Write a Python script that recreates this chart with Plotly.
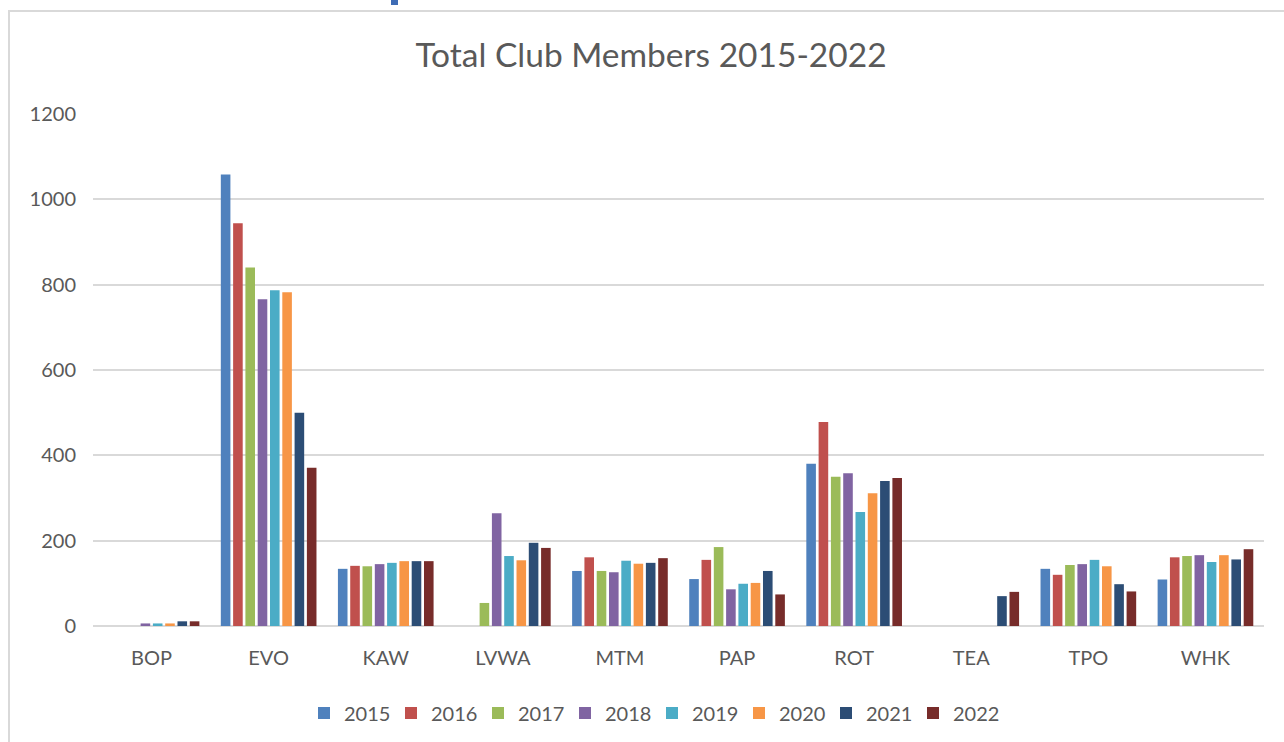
import plotly.graph_objects as go

clubs = ["BOP", "EVO", "KAW", "LVWA", "MTM", "PAP", "ROT", "TEA", "TPO", "WHK"]
years = ["2015", "2016", "2017", "2018", "2019", "2020", "2021", "2022"]

v2015 = [None, 1058, 134, None, 129, 110, 380, None, 134, 109]
v2016 = [None, 944, 141, None, 161, 155, 478, None, 120, 161]
v2017 = [None, 840, 140, 54, 129, 185, 350, None, 143, 164]
v2018 = [6, 766, 145, 264, 126, 86, 358, None, 145, 166]
v2019 = [6, 787, 148, 164, 153, 99, 267, None, 155, 150]
v2020 = [6, 782, 152, 154, 146, 101, 311, None, 140, 166]
v2021 = [11, 500, 152, 195, 148, 129, 340, 70, 98, 156]
v2022 = [11, 371, 152, 183, 159, 74, 347, 80, 81, 180]

series = [v2015, v2016, v2017, v2018, v2019, v2020, v2021, v2022]
colors = ["#4F81BD", "#C0504D", "#9BBB59", "#8064A2", "#4BACC6", "#F79646", "#2C4D75", "#772C2A"]

FONT = "Lato"
GRAY = "#595959"

fig = go.Figure()
for yr, vals, col in zip(years, series, colors):
    fig.add_trace(go.Bar(name=yr, x=clubs, y=vals, marker=dict(color=col, line=dict(width=0))))

L, R, T, B = 93, 1264, 114, 626
W, H = 1284, 742

def px_x(p):
    return (p - L) / (R - L)

def px_y(p):
    return (B - p) / (B - T)

fig.update_layout(
    width=W, height=H,
    margin=dict(l=L, r=W - R, t=T, b=H - B, autoexpand=False),
    paper_bgcolor="white", plot_bgcolor="white",
    barmode="group", bargap=0.16, bargroupgap=0.22,
    title=dict(text="Total Club Members 2015-2022", x=651 / W, xanchor="center", xref="container",
               y=1 - 55 / H, yanchor="middle",
               font=dict(family=FONT, size=33.5, color=GRAY)),
    font=dict(family=FONT, color=GRAY),
    showlegend=True,
    legend=dict(orientation="h", x=652 / W, xanchor="center", xref="container",
                y=1 - 713 / H, yanchor="middle", yref="container",
                font=dict(family=FONT, size=20, color=GRAY),
                itemwidth=30, entrywidth=42, entrywidthmode="pixels",
                traceorder="normal", itemclick=False),
    xaxis=dict(showgrid=False, showline=False, ticks="", zeroline=False,
               tickfont=dict(family=FONT, size=20, color=GRAY), ticklabelstandoff=18),
    yaxis=dict(range=[0, 1200], dtick=200, showgrid=True, gridcolor="#D9D9D9", gridwidth=1.5,
               zeroline=True, zerolinecolor="#D9D9D9", zerolinewidth=2, showline=False, ticks="",
               tickfont=dict(family=FONT, size=20, color=GRAY), ticklabelstandoff=16),
    shapes=[
        dict(type="rect", xref="paper", yref="paper",
             x0=px_x(9), x1=px_x(1295), y0=px_y(760), y1=px_y(11),
             line=dict(color="#D9D9D9", width=2), fillcolor="rgba(0,0,0,0)", layer="below"),
        dict(type="rect", xref="paper", yref="paper",
             x0=px_x(391), x1=px_x(398), y0=px_y(5), y1=px_y(-2),
             line=dict(width=0), fillcolor="#3E6CB5"),
    ],
)

fig.write_html("out.html", config={"displayModeBar": False},
               post_script="document.body.style.margin='0';document.body.style.overflow='hidden';")
